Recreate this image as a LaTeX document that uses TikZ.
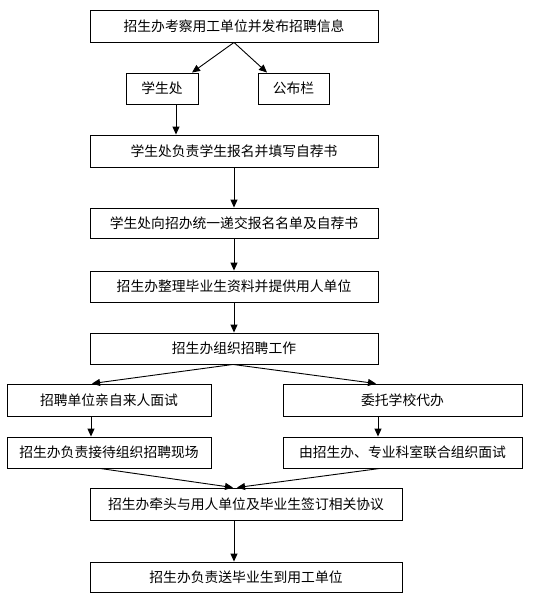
\documentclass[tikz,border=0pt]{standalone}
\usepackage{fontspec}
\newfontfamily\cjk{Noto Sans CJK SC}
\usetikzlibrary{arrows.meta}
\begin{document}
\begin{tikzpicture}[x=1pt,y=-1pt,
  box/.style={draw, line width=0.9pt, rectangle, inner sep=0pt, minimum height=31pt, font=\cjk\fontsize{13.8}{15}\selectfont},
  arr/.style={line width=0.9pt, -{Triangle[length=8pt,width=7pt]}},
  ln/.style={line width=0.9pt}]
\useasboundingbox (0,0) rectangle (537,599);
\node[box, minimum width=288pt, minimum height=32pt] (b1) at (234,26) {招生办考察用工单位并发布招聘信息};
\node[box, minimum width=72pt] (b2) at (162,88.5) {学生处};
\node[box, minimum width=71pt] (b3) at (293.5,88.5) {公布栏};
\node[box, minimum width=288pt, minimum height=32pt] (b4) at (234,151) {学生处负责学生报名并填写自荐书};
\node[box, minimum width=288pt, minimum height=30pt] (b5) at (234,223) {学生处向招办统一递交报名名单及自荐书};
\node[box, minimum width=288pt] (b6) at (234,286.5) {招生办整理毕业生资料并提供用人单位};
\node[box, minimum width=288pt] (b7) at (234,348.5) {招生办组织招聘工作};
\node[box, minimum width=204pt, minimum height=32pt] (b8) at (109,400) {招聘单位亲自来人面试};
\node[box, minimum width=239pt, minimum height=32pt] (b9) at (402.5,400) {委托学校代办};
\node[box, minimum width=204pt] (b10) at (109,452.5) {招生办负责接待组织招聘现场};
\node[box, minimum width=239pt] (b11) at (402.5,452.5) {由招生办、专业科室联合组织面试};
\node[box, minimum width=312pt, minimum height=32pt] (b12) at (246,504) {招生办牵头与用人单位及毕业生签订相关协议};
\node[box, minimum width=312pt, minimum height=30pt] (b13) at (246,577) {招生办负责送毕业生到用工单位};

\draw[arr] (b1.south) -- ([xshift=30pt]b2.north);
\draw[arr] (b1.south) -- ([xshift=-26.5pt]b3.north);
\draw[arr] ([xshift=14pt]b2.south) -- ([xshift=14pt]b2.south |- b4.north);
\draw[arr] (b4.south) -- (b4.south |- b5.north);
\draw[arr] (b5.south) -- (b5.south |- b6.north);
\draw[arr] (b6.south) -- (b6.south |- b7.north);
\draw[arr] ([xshift=-1pt]b7.south) -- ([xshift=-17pt]b8.north);
\draw[arr] ([xshift=-1pt]b7.south) -- ([xshift=-26.5pt]b9.north);
\draw[arr] ([xshift=-18pt]b8.south) -- ([xshift=-18pt]b8.south |- b10.north);
\draw[arr] ([xshift=-24.5pt]b9.south) -- ([xshift=-24.5pt]b9.south |- b11.north);
\draw[arr] ([xshift=-9pt]b10.south) -- ([xshift=-13pt]b12.north);
\draw[arr] ([xshift=-22.5pt]b11.south) -- ([xshift=-9pt]b12.north);
\draw[arr] ([xshift=-12pt]b12.south) -- ([xshift=-12pt]b12.south |- b13.north);
\end{tikzpicture}
\end{document}
